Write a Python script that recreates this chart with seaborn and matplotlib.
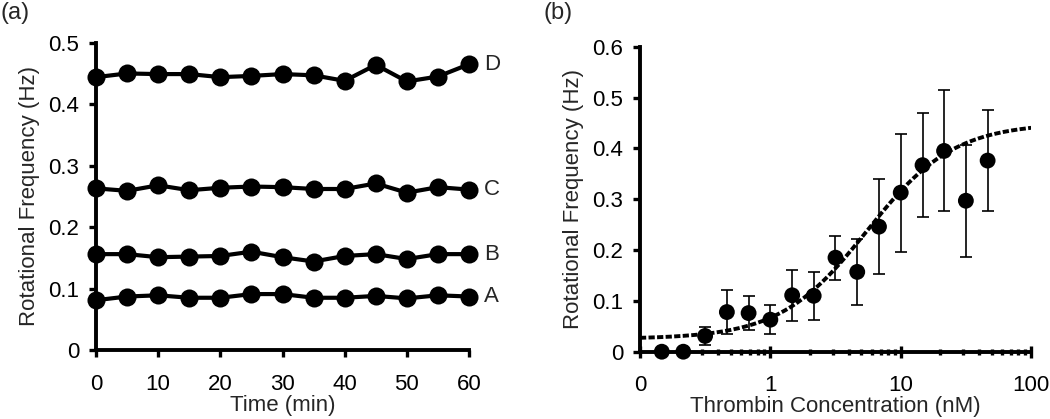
import numpy as np
import pandas as pd
import seaborn as sns
import matplotlib.pyplot as plt
from matplotlib.ticker import FixedLocator, LogLocator, NullFormatter

sns.set_theme(style="white")
plt.rcParams['font.family'] = ['Liberation Sans', 'DejaVu Sans']
plt.rcParams['font.size'] = 16

# (a) rotational frequency over time, four series
time_min = [0, 5, 10, 15, 20, 25, 30, 35, 40, 45, 50, 55, 60]
freq_a = [0.081, 0.087, 0.089, 0.085, 0.085, 0.091, 0.091, 0.085, 0.085, 0.088, 0.084, 0.089, 0.087]
freq_b = [0.156, 0.156, 0.151, 0.152, 0.153, 0.160, 0.151, 0.144, 0.153, 0.156, 0.148, 0.156, 0.156]
freq_c = [0.263, 0.259, 0.268, 0.260, 0.264, 0.266, 0.265, 0.262, 0.262, 0.271, 0.256, 0.265, 0.261]
freq_d = [0.444, 0.450, 0.449, 0.449, 0.444, 0.446, 0.449, 0.447, 0.438, 0.464, 0.437, 0.445, 0.465]
series_names = ['A', 'B', 'C', 'D']

# (b) frequency vs thrombin concentration
conc_nM = [0.147, 0.215, 0.316, 0.464, 0.681, 1.0, 1.47, 2.15, 3.16, 4.64, 6.81, 10.0, 14.7, 21.5, 31.6, 46.4]
freq_mean = [0.0, 0.0, 0.031, 0.078, 0.076, 0.063, 0.111, 0.110, 0.185, 0.157, 0.246, 0.313, 0.367, 0.395, 0.297, 0.376]
freq_err = [0.0, 0.0, 0.017, 0.044, 0.033, 0.028, 0.050, 0.047, 0.043, 0.065, 0.094, 0.116, 0.102, 0.119, 0.110, 0.099]
# Hill fit parameters
fit_base, fit_top, fit_k, fit_n = 0.025, 0.45, 5.5, 1.3

df_a = pd.DataFrame({
    'time': time_min * 4,
    'freq': freq_a + freq_b + freq_c + freq_d,
    'series': [s for s in series_names for _ in time_min],
})
df_b = pd.DataFrame({'conc': conc_nM, 'freq': freq_mean, 'err': freq_err})
fit_x = np.logspace(-1, 2, 200)
fit_y = fit_base + (fit_top - fit_base) * fit_x ** fit_n / (fit_k ** fit_n + fit_x ** fit_n)
df_fit = pd.DataFrame({'conc': fit_x, 'freq': fit_y})

fig = plt.figure(figsize=(10.5, 4.19), dpi=100)
ax1 = fig.add_axes([0.0914, 0.1647, 0.3553, 0.7333])
ax2 = fig.add_axes([0.6095, 0.1606, 0.3725, 0.7279])

# left panel
sns.lineplot(data=df_a, x='time', y='freq', hue='series', units='series', estimator=None,
             palette=['black'] * 4, marker='o', markersize=13, markeredgewidth=0,
             linewidth=3, legend=False, ax=ax1)
for line in ax1.lines:
    line.set_clip_on(False)
for name, vals in zip(series_names, [freq_a, freq_b, freq_c, freq_d]):
    ax1.annotate(name, (time_min[-1], vals[-1]), xytext=(11, 0), textcoords='offset points',
                 va='center', ha='left', fontsize=16, annotation_clip=False)
ax1.set_xlim(0, 60)
ax1.set_ylim(0, 0.5)
ax1.set_xticks(range(0, 61, 10))
ax1.set_yticks([0, 0.1, 0.2, 0.3, 0.4, 0.5])
ax1.set_yticklabels(['0', '0.1', '0.2', '0.3', '0.4', '0.5'])
ax1.set_xlabel('Time (min)', fontsize=16, labelpad=0)
ax1.set_ylabel('Rotational Frequency (Hz)', fontsize=16, labelpad=6)

# right panel
ax2.set_xscale('log')
sns.lineplot(data=df_fit, x='conc', y='freq', color='black', linewidth=2.8,
             linestyle=(0, (1.6, 0.6)), ax=ax2)
ax2.errorbar(df_b['conc'], df_b['freq'], yerr=df_b['err'], fmt='none', ecolor='black',
             elinewidth=1.2, capsize=4.5, capthick=1.2)
sns.scatterplot(data=df_b, x='conc', y='freq', color='black', s=130, edgecolor='none',
                ax=ax2, clip_on=False, zorder=5)
ax2.set_xlim(0.1, 100)
ax2.set_ylim(0, 0.6)
ax2.xaxis.set_major_locator(FixedLocator([0.1, 1, 10, 100]))
ax2.set_xticklabels(['0', '1', '10', '100'])
ax2.xaxis.set_minor_locator(LogLocator(base=10, subs=np.arange(2, 10)))
ax2.xaxis.set_minor_formatter(NullFormatter())
ax2.set_yticks([0, 0.1, 0.2, 0.3, 0.4, 0.5, 0.6])
ax2.set_yticklabels(['0', '0.1', '0.2', '0.3', '0.4', '0.5', '0.6'])
ax2.set_xlabel('Thrombin Concentration (nM)', fontsize=16, labelpad=0)
ax2.set_ylabel('Rotational Frequency (Hz)', fontsize=16, labelpad=6)

for ax in (ax1, ax2):
    sns.despine(ax=ax)
    for sp in ('left', 'bottom'):
        ax.spines[sp].set_linewidth(2.8)
        ax.spines[sp].set_color('black')
    ax.tick_params(axis='both', which='major', direction='out', length=5, width=2.4,
                   colors='black', labelsize=16, pad=7, bottom=True, left=True)
    ax.tick_params(axis='x', pad=12)
ax2.tick_params(axis='x', which='major', direction='inout', length=9, width=2.4)
ax2.tick_params(axis='x', which='minor', direction='inout', length=5, width=2.4,
                color='black', bottom=True)

fig.text(0.0, 0.995, '(a)', fontsize=17, va='top', ha='left')
fig.text(0.518, 0.995, '(b)', fontsize=17, va='top', ha='left')

fig.savefig('out.png', dpi=100)
